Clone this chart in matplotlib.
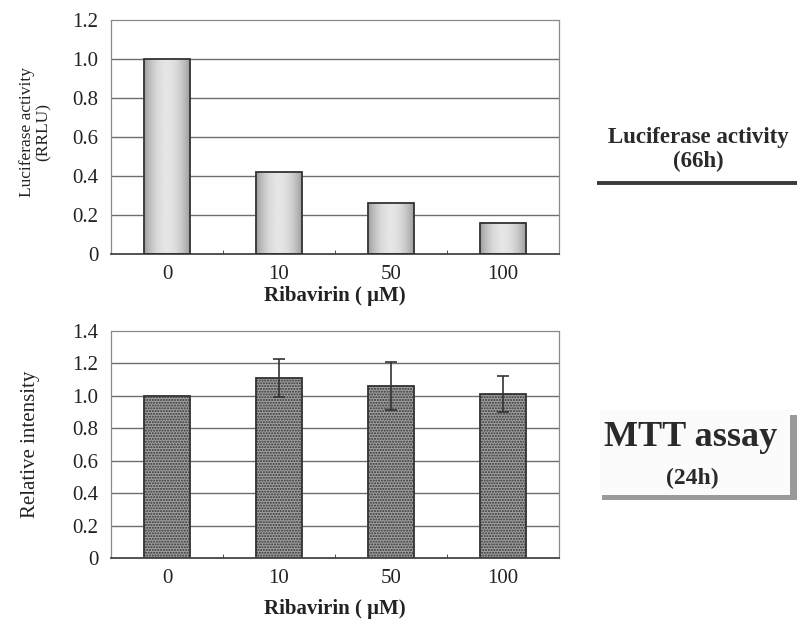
import numpy as np
import matplotlib
matplotlib.use("Agg")
import matplotlib.pyplot as plt
from matplotlib.patches import Rectangle

# ---- data ----
doses = ["0", "10", "50", "100"]
luciferase = [1.0, 0.42, 0.26, 0.16]
mtt = [1.0, 1.11, 1.06, 1.01]
mtt_err = [0.0, 0.12, 0.15, 0.11]

DARK = "#333333"
GRID = "#6e6e6e"
INK = "#222222"

plt.rcParams.update({
    "font.family": ["Liberation Serif", "DejaVu Serif"],
    "figure.facecolor": "white",
    "axes.facecolor": "white",
    "hatch.color": "#858585",
})

fig = plt.figure(figsize=(7.97, 6.24), dpi=100)


def style(ax, ymax, step):
    ax.set_xlim(-0.5, len(doses) - 0.5)
    ax.set_ylim(0, ymax)
    ticks = np.arange(0, ymax + step / 2, step)
    ax.set_yticks(ticks)
    ax.set_yticklabels(["0"] + [f"{t:.1f}" for t in ticks[1:]])
    ax.set_xticks(range(len(doses)))
    ax.set_xticklabels(doses)
    ax.set_xticks(np.arange(0.5, len(doses) - 1), minor=True)
    ax.tick_params(axis="both", which="major", length=0, labelsize=15, colors=INK)
    ax.tick_params(axis="x", which="major", pad=8)
    ax.tick_params(axis="y", which="major", pad=9)
    ax.tick_params(axis="x", which="minor", direction="in", length=3, color=DARK)
    for t in ticks[1:-1]:
        ax.axhline(t, color=GRID, lw=1.0, zorder=0.5)
    for s in ("top", "right", "left"):
        ax.spines[s].set_linestyle((0, (1, 1)))
        ax.spines[s].set_color("#8a8a8a")
        ax.spines[s].set_linewidth(0.9)
    ax.spines["bottom"].set_color("#444444")
    ax.spines["bottom"].set_linewidth(1.3)


# ---------- top: luciferase activity ----------
ax1 = fig.add_axes([0.1393, 0.5929, 0.5621, 0.375])
style(ax1, 1.2, 0.2)
x = np.arange(len(doses))
w = 0.41
prof = np.linspace(0, 1, 200)
grad = (0.6 + 0.3 * np.sin(np.pi * prof) ** 0.8)[None, :]
for xi, v in zip(x, luciferase):
    ax1.imshow(grad, extent=[xi - w / 2, xi + w / 2, 0, v], aspect="auto",
               cmap="gray", vmin=0, vmax=1, zorder=2, interpolation="bilinear")
ax1.bar(x, luciferase, width=w, facecolor="none", edgecolor=DARK,
        linewidth=1.3, zorder=3)
ax1.set_xlim(-0.5, len(doses) - 0.5)
ax1.set_ylim(0, 1.2)
ax1.set_ylabel("Luciferase activity\n(RRLU)", fontsize=12.5, color=INK,
               va="center", linespacing=1.05)
ax1.yaxis.set_label_coords(-0.17, 0.52)
ax1.set_xlabel("Ribavirin ( μM)", fontsize=15, fontweight="bold",
               color=INK, va="center")
ax1.xaxis.set_label_coords(0.5, -0.18)

# ---------- bottom: MTT assay ----------
ax2 = fig.add_axes([0.1393, 0.1058, 0.5621, 0.3638])
style(ax2, 1.4, 0.2)
ax2.bar(x, mtt, width=w, facecolor="#a0a0a0", edgecolor=DARK,
        linewidth=1.3, hatch="......", zorder=2)
has_err = [i for i, e in enumerate(mtt_err) if e > 0]
ax2.errorbar([x[i] for i in has_err], [mtt[i] for i in has_err],
             yerr=[mtt_err[i] for i in has_err], fmt="none", ecolor=DARK,
             elinewidth=1.2, capsize=4, capthick=1.2, zorder=4)
ax2.set_ylabel("Relative intensity", fontsize=15, color=INK, va="center")
ax2.yaxis.set_label_coords(-0.18, 0.5)
ax2.set_xlabel("Ribavirin ( μM)", fontsize=15, fontweight="bold",
               color=INK, va="center")
ax2.xaxis.set_label_coords(0.5, -0.225)

# ---------- right-hand captions ----------
ov = fig.add_axes([0, 0, 1, 1])
ov.set_xlim(0, 797)
ov.set_ylim(624, 0)
ov.axis("off")

ov.text(698, 138, "Luciferase activity", ha="center", va="center",
        fontsize=16.5, fontweight="bold", color="#2a2a2a")
ov.text(698, 161, "(66h)", ha="center", va="center",
        fontsize=16.5, fontweight="bold", color="#2a2a2a")
ov.plot([597, 797], [183, 183], color="#3a3a3a", lw=2.8, solid_capstyle="butt")

ov.add_patch(Rectangle((600, 410), 190, 85, facecolor="#fbfbfb", edgecolor="none"))
ov.add_patch(Rectangle((790, 415), 7, 85, facecolor="#9a9a9a", edgecolor="none"))
ov.add_patch(Rectangle((602, 495), 195, 5, facecolor="#9a9a9a", edgecolor="none"))
ov.text(691, 437, "MTT assay", ha="center", va="center",
        fontsize=26, fontweight="bold", color="#2a2a2a")
ov.text(692, 478, "(24h)", ha="center", va="center",
        fontsize=17, fontweight="bold", color="#2a2a2a")

fig.savefig("out.png", dpi=100)
